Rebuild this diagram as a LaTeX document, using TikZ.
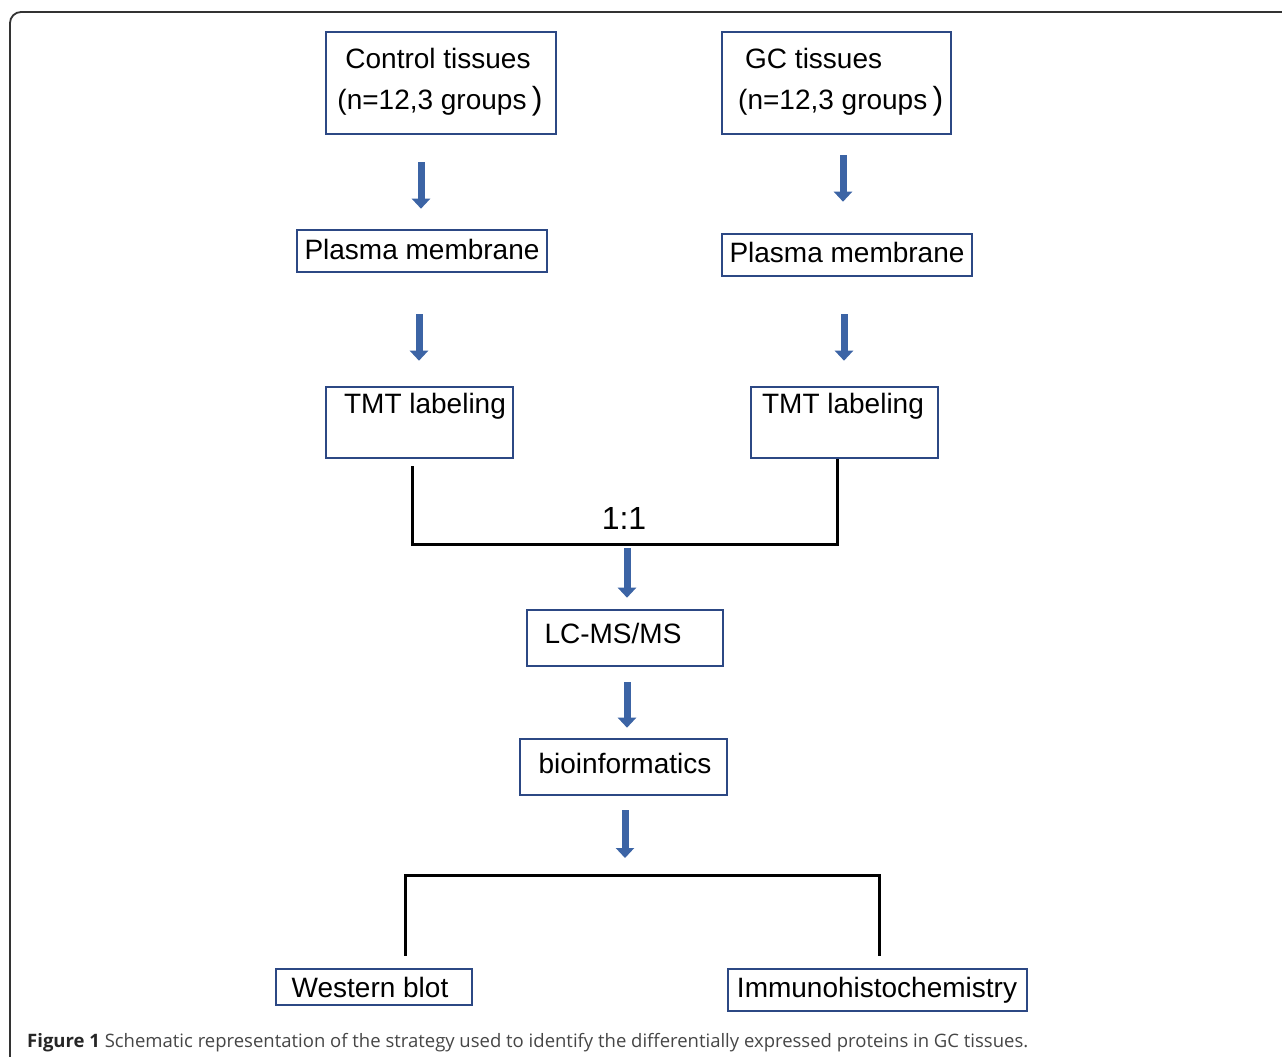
\documentclass[tikz,border=0pt]{standalone}
\usepackage{fontspec}
\setmainfont{Liberation Sans}
\newfontfamily\capfont{Open Sans}
\usetikzlibrary{arrows.meta,calc}
\definecolor{boxblue}{RGB}{44,72,132}
\definecolor{arrblue}{RGB}{60,100,165}
\definecolor{capgray}{RGB}{70,70,70}
\begin{document}
\begin{tikzpicture}[x=1pt,y=-1pt,
  box/.style={draw=boxblue,line width=2.6pt,inner sep=0pt,font=\fontsize{28}{34}\selectfont},
  txt/.style={inner sep=0pt,font=\fontsize{28}{34}\selectfont,anchor=base},
  flow/.style={draw=arrblue,line width=7pt,-{Triangle[width=18pt,length=10pt]}},
  joinline/.style={draw=black,line width=3pt}]
\useasboundingbox (0,0) rectangle (1282,1057);
\begin{scope}
  \clip (0,0) rectangle (1282,1057);
  \draw[line width=1.8pt,draw=black!80,rounded corners=11pt] (10,12) rectangle (1330,1110);
\end{scope}

% boxes
\node[box,minimum width=230pt,minimum height=102pt] (ctrl) at (441,83) {};
\node[txt] (ctrlA) at (438,68) {Control tissues};
\node[txt] (ctrlB) at (440,110) {(n=12,3 groups{\fontsize{32}{32}\selectfont\,)}};

\node[box,minimum width=229pt,minimum height=102pt] (gc) at (836.5,83) {};
\node[txt,anchor=base west] (gcA) at (745,68) {GC tissues};
\node[txt,anchor=base west] (gcB) at (738,110) {(n=12,3 groups{\fontsize{32}{32}\selectfont\,)}};

\node[box,minimum width=250pt,minimum height=42pt] (pm1) at (422,251) {};
\node[txt] (pm1t) at (422,259) {Plasma membrane};
\node[box,minimum width=250pt,minimum height=42pt] (pm2) at (847,255) {};
\node[txt] (pm2t) at (847,262) {Plasma membrane};

\node[box,minimum width=187pt,minimum height=71pt] (tmt1) at (419.5,422.5) {};
\node[txt] (tmt1t) at (425,413) {TMT labeling};
\node[box,minimum width=187pt,minimum height=71pt] (tmt2) at (844.5,422.5) {};
\node[txt] (tmt2t) at (843,413) {TMT labeling};

\node[box,minimum width=196pt,minimum height=56pt] (lc) at (625,638) {};
\node[txt] (lct) at (613,643) {LC-MS/MS};
\node[box,minimum width=207pt,minimum height=56pt] (bio) at (623.5,767) {};
\node[txt] (biot) at (625,773) {bioinformatics};

\node[box,minimum width=196pt,minimum height=36pt] (wb) at (374,987) {};
\node[txt] (wbt) at (370,997) {Western blot};
\node[box,minimum width=299pt,minimum height=42pt] (ihc) at (877.5,990) {};
\node[txt] (ihct) at (877,997) {Immunohistochemistry};

% junction coordinates
\coordinate (J1L) at (412,544);
\coordinate (J1R) at (837,544);
\coordinate (J1C) at (627,544);
\coordinate (B1) at (405,875);
\coordinate (B2) at (879,875);
\coordinate (BC) at (625,875);

\node[txt,font=\fontsize{32}{36}\selectfont] (ratio) at (624,529) {1:1};

% arrows
\draw[flow,shorten <=27pt,shorten >=20pt] (ctrl.south -| 421,0) -- (pm1.north -| 421,0);
\draw[flow,shorten <=20pt,shorten >=31pt] (gc.south -| 843,0) -- (pm2.north -| 843,0);
\draw[flow,shorten <=41pt,shorten >=25pt] (pm1.south -| 419,0) -- (tmt1.north -| 419,0);
\draw[flow,shorten <=37pt,shorten >=25pt] (pm2.south -| 844,0) -- (tmt2.north -| 844,0);
\draw[flow,shorten <=4pt,shorten >=11pt] (J1C) -- (lc.north -| J1C);
\draw[flow,shorten <=15pt,shorten >=10pt] (lc.south -| J1C) -- (bio.north -| J1C);
\draw[flow,shorten <=14pt,shorten >=17pt] (bio.south -| BC) -- (BC);

% join lines
\draw[joinline] ($(tmt1.south -| J1L)+(0,7)$) -- (J1L) -- (J1R) -- (tmt2.south -| J1R);
\draw[joinline] ($(wb.north -| B1)+(0,-12)$) -- (B1) -- (B2) -- ($(ihc.north -| B2)+(0,-12)$);

% caption
\node[inner sep=0pt,anchor=base west] (cap) at (27,1047)
  {\resizebox{1001pt}{!}{\capfont\fontsize{18}{20}\selectfont\textcolor{black!85}{\bfseries Figure 1} \textcolor{capgray}{Schematic representation of the strategy used to identify the differentially expressed proteins in GC tissues.}}};
\end{tikzpicture}
\end{document}
